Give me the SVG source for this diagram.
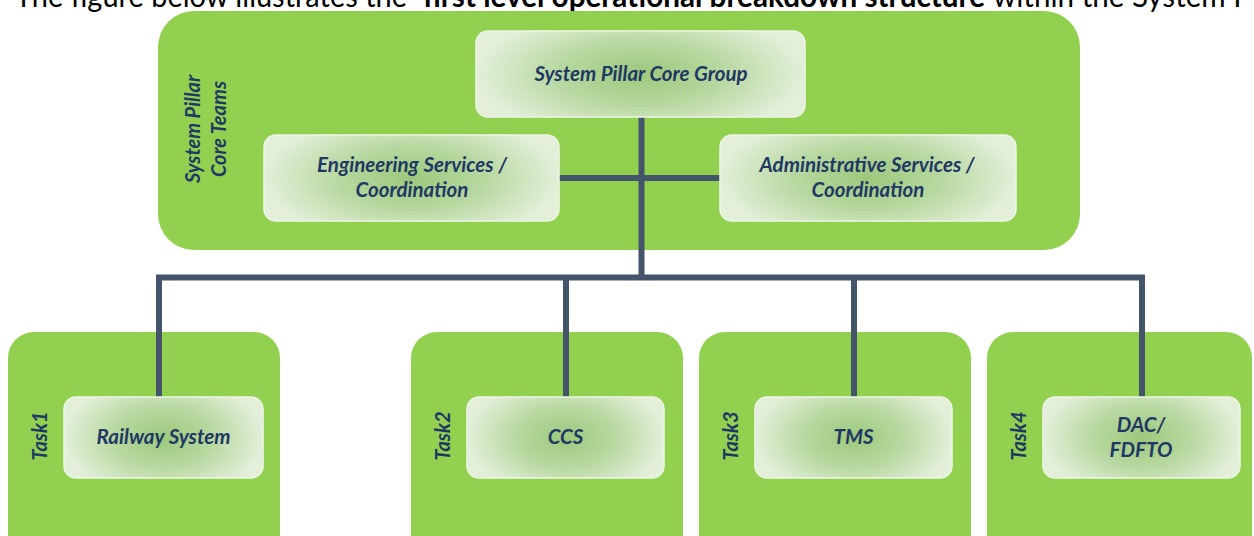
<svg xmlns="http://www.w3.org/2000/svg" width="1254" height="536" viewBox="0 0 1254 536">
<defs>
<radialGradient id="ig" cx="0.5" cy="0.5" r="0.5" gradientTransform="translate(0.5,0.5) scale(1,1.5) translate(-0.5,-0.5)">
<stop offset="0" stop-color="#9dc87c"/>
<stop offset="0.5" stop-color="#b8d8a1"/>
<stop offset="1" stop-color="#e3efd9"/>
</radialGradient>
<style>
.outer{fill:#92d050;}
.inner{fill:url(#ig);stroke:#eef6e8;stroke-width:1.5;}
.lbl{font-family:Lato,"Liberation Sans",sans-serif;font-weight:bold;font-style:italic;font-size:20.5px;fill:#1f3864;text-anchor:middle;}
.side{font-family:Lato,"Liberation Sans",sans-serif;font-weight:bold;font-style:italic;font-size:20px;fill:#1f3864;text-anchor:middle;}
.conn{fill:none;stroke:#44546a;stroke-width:6;stroke-linecap:butt;stroke-linejoin:miter;}
.cap{font-family:Lato,"Liberation Sans",sans-serif;font-size:30px;fill:#000;}
</style>
</defs>
<rect width="1254" height="536" fill="#ffffff"/>
<g id="caption">
<text class="cap" x="15" y="7" textLength="392" lengthAdjust="spacingAndGlyphs">The figure below illustrates the</text>
<text class="cap" x="423" y="7" font-weight="bold" textLength="562" lengthAdjust="spacingAndGlyphs">first level operational breakdown structure</text>
<text class="cap" x="993" y="7" textLength="258" lengthAdjust="spacingAndGlyphs">within the System P</text>
</g>
<g id="core-teams">
<rect class="outer" x="158" y="11" width="922" height="239" rx="36"/>
<text class="side" transform="translate(200,129) rotate(-90)">System Pillar</text>
<text class="side" transform="translate(226,129) rotate(-90)">Core Teams</text>
</g>
<g id="task1">
<rect class="outer" x="8" y="332" width="272" height="230" rx="26"/>
<text class="side" transform="translate(47,436) rotate(-90)">Task1</text>
</g>
<g id="task2">
<rect class="outer" x="411" y="332" width="272" height="230" rx="26"/>
<text class="side" transform="translate(450,436) rotate(-90)">Task2</text>
</g>
<g id="task3">
<rect class="outer" x="699" y="332" width="272" height="230" rx="26"/>
<text class="side" transform="translate(738,436) rotate(-90)">Task3</text>
</g>
<g id="task4">
<rect class="outer" x="987" y="332" width="265" height="230" rx="26"/>
<text class="side" transform="translate(1026,436) rotate(-90)">Task4</text>
</g>
<g id="connectors">
<path class="conn" d="M641.5 117 V277.5"/>
<path class="conn" d="M559 178 H720"/>
<path class="conn" d="M159 397 V277.5 H1142 V397"/>
<path class="conn" d="M566 277.5 V397"/>
<path class="conn" d="M854 277.5 V397"/>
</g>
<g id="core-group">
<rect class="inner" x="476" y="31" width="329" height="86" rx="12"/>
<text class="lbl" x="641" y="81">System Pillar Core Group</text>
</g>
<g id="engineering">
<rect class="inner" x="264" y="135" width="295" height="86" rx="12"/>
<text class="lbl" x="412" y="172">Engineering Services /</text>
<text class="lbl" x="412" y="197">Coordination</text>
</g>
<g id="administrative">
<rect class="inner" x="720" y="135" width="296" height="86" rx="12"/>
<text class="lbl" x="867" y="172">Administrative Services /</text>
<text class="lbl" x="868" y="197">Coordination</text>
</g>
<g id="railway-system">
<rect class="inner" x="64" y="397" width="199" height="81" rx="12"/>
<text class="lbl" x="163.5" y="444">Railway System</text>
</g>
<g id="ccs">
<rect class="inner" x="467" y="397" width="197" height="81" rx="12"/>
<text class="lbl" x="565.5" y="444">CCS</text>
</g>
<g id="tms">
<rect class="inner" x="755" y="397" width="197" height="81" rx="12"/>
<text class="lbl" x="853.5" y="444">TMS</text>
</g>
<g id="dac-fdfto">
<rect class="inner" x="1043" y="397" width="197" height="81" rx="12"/>
<text class="lbl" x="1141" y="432">DAC/</text>
<text class="lbl" x="1141" y="457">FDFTO</text>
</g>
</svg>
